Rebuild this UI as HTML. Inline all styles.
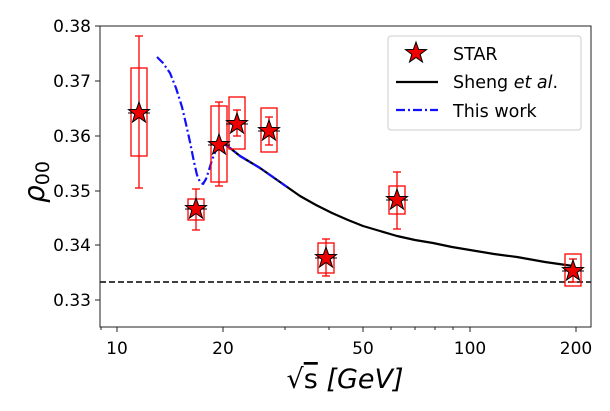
<!DOCTYPE html>
<html><head><meta charset="utf-8"><style>
body{margin:0;background:#fff}
text{font-family:"DejaVu Sans","Liberation Sans",sans-serif;fill:#000}
</style></head><body>
<svg width="610" height="406" viewBox="0 0 610 406" xmlns="http://www.w3.org/2000/svg">
<defs>
<polygon id="st" points="0,-11 2.6,-3.6 10.5,-3.4 4.2,1.4 6.5,9 0,4.5 -6.5,9 -4.2,1.4 -10.5,-3.4 -2.6,-3.6" fill="#e00" stroke="#000" stroke-width="1"/>
</defs>
<line x1="100" y1="282" x2="591" y2="282" stroke="#000" stroke-width="1.5" stroke-dasharray="6,3"/>
<polyline fill="none" stroke="#000" stroke-width="2.2" stroke-linejoin="round" points="223,143 230,148 240,156 250,162 260,168 270,175 280,182 290,189 300,196 316,205 332,213 348,220 363,226 380,231 397,236 415,240 433,243 452,247 470,250 494,254 517,257 545,262 573,266"/>
<polyline fill="none" stroke="#1010ff" stroke-width="2.2" stroke-linejoin="round" stroke-dasharray="9,3,2,3" points="157,57 163,63 170,73 176,88 182,107 186,124 190,142 194,162 197,175 200,182 203,184 206,179 209,170 212,160 216,150 220,144 223,143 230,148 240,156 250,162 260,168 270,175 280,182 287,187"/>
<g stroke="#f00" stroke-width="1.3" fill="none">
<rect x="131" y="68" width="16" height="88"/><line x1="139" y1="36" x2="139" y2="188"/><line x1="135" y1="36" x2="143" y2="36"/><line x1="135" y1="188" x2="143" y2="188"/>
<rect x="188" y="199" width="16" height="21"/><line x1="196" y1="189" x2="196" y2="230"/><line x1="192" y1="189" x2="200" y2="189"/><line x1="192" y1="230" x2="200" y2="230"/>
<rect x="211" y="106" width="16" height="76"/><line x1="219" y1="102" x2="219" y2="186"/><line x1="215" y1="102" x2="223" y2="102"/><line x1="215" y1="186" x2="223" y2="186"/>
<rect x="229" y="97" width="16" height="52"/><line x1="237" y1="110" x2="237" y2="136"/><line x1="233" y1="110" x2="241" y2="110"/><line x1="233" y1="136" x2="241" y2="136"/>
<rect x="261" y="108" width="16" height="44"/><line x1="269" y1="117" x2="269" y2="145"/><line x1="265" y1="117" x2="273" y2="117"/><line x1="265" y1="145" x2="273" y2="145"/>
<rect x="318" y="243" width="16" height="30"/><line x1="326" y1="239" x2="326" y2="276"/><line x1="322" y1="239" x2="330" y2="239"/><line x1="322" y1="276" x2="330" y2="276"/>
<rect x="389" y="186" width="16" height="28"/><line x1="397" y1="172" x2="397" y2="229"/><line x1="393" y1="172" x2="401" y2="172"/><line x1="393" y1="229" x2="401" y2="229"/>
<rect x="565" y="254" width="16" height="32"/><line x1="573" y1="259" x2="573" y2="282"/><line x1="569" y1="259" x2="577" y2="259"/><line x1="569" y1="282" x2="577" y2="282"/>
</g>
<g stroke="#000" stroke-width="1"><line x1="128" y1="113" x2="150" y2="113"/><line x1="185" y1="209" x2="207" y2="209"/><line x1="208" y1="145" x2="230" y2="145"/><line x1="226" y1="124" x2="248" y2="124"/><line x1="258" y1="131" x2="280" y2="131"/><line x1="315" y1="258" x2="337" y2="258"/><line x1="386" y1="200" x2="408" y2="200"/><line x1="562" y1="271" x2="584" y2="271"/></g>
<use href="#st" x="139" y="113"/><use href="#st" x="196" y="209"/><use href="#st" x="219" y="145"/><use href="#st" x="237" y="124"/><use href="#st" x="269" y="131"/><use href="#st" x="326" y="258"/><use href="#st" x="397" y="200"/><use href="#st" x="573" y="271"/>
<rect x="100" y="26" width="491" height="301" fill="none" stroke="#222" stroke-width="1"/>
<g stroke="#222" stroke-width="1">
<line x1="95" y1="26" x2="100" y2="26"/><line x1="95" y1="81" x2="100" y2="81"/><line x1="95" y1="136" x2="100" y2="136"/><line x1="95" y1="191" x2="100" y2="191"/><line x1="95" y1="245" x2="100" y2="245"/><line x1="95" y1="300" x2="100" y2="300"/>
<line x1="117" y1="327" x2="117" y2="332"/><line x1="223" y1="327" x2="223" y2="332"/><line x1="363" y1="327" x2="363" y2="332"/><line x1="470" y1="327" x2="470" y2="332"/><line x1="576" y1="327" x2="576" y2="332"/>
<line x1="101" y1="327" x2="101" y2="330"/><line x1="285" y1="327" x2="285" y2="330"/><line x1="329" y1="327" x2="329" y2="330"/><line x1="391" y1="327" x2="391" y2="330"/><line x1="415" y1="327" x2="415" y2="330"/><line x1="435" y1="327" x2="435" y2="330"/><line x1="453" y1="327" x2="453" y2="330"/>
</g>
<g font-size="17" text-anchor="end">
<text x="91" y="32">0.38</text><text x="91" y="87">0.37</text><text x="91" y="142">0.36</text><text x="91" y="197">0.35</text><text x="91" y="251">0.34</text><text x="91" y="306">0.33</text>
</g>
<g font-size="17" text-anchor="middle">
<text x="117" y="354">10</text><text x="223" y="354">20</text><text x="363" y="354">50</text><text x="470" y="354">100</text><text x="576" y="354">200</text>
</g>
<text x="0" y="0" font-size="28" font-style="italic" transform="translate(44,203) rotate(-90)">ρ<tspan font-size="19" font-style="normal" dy="5">00</tspan></text>
<text x="345" y="388" font-size="27" text-anchor="middle">√<tspan text-decoration="overline">s</tspan> <tspan font-style="italic">[GeV]</tspan></text>
<rect x="388" y="36" width="193" height="94" rx="3" fill="#fff" stroke="#ccc" stroke-width="1"/>
<use href="#st" x="416" y="53"/>
<line x1="396" y1="82" x2="438" y2="82" stroke="#000" stroke-width="2.2"/>
<line x1="396" y1="110" x2="438" y2="110" stroke="#1010ff" stroke-width="2.2" stroke-dasharray="9,3,2,3"/>
<g font-size="17.5"><text x="453" y="60">STAR</text><text x="453" y="88">Sheng <tspan font-style="italic">et al</tspan>.</text><text x="453" y="117">This work</text></g>
</svg>
</body></html>
